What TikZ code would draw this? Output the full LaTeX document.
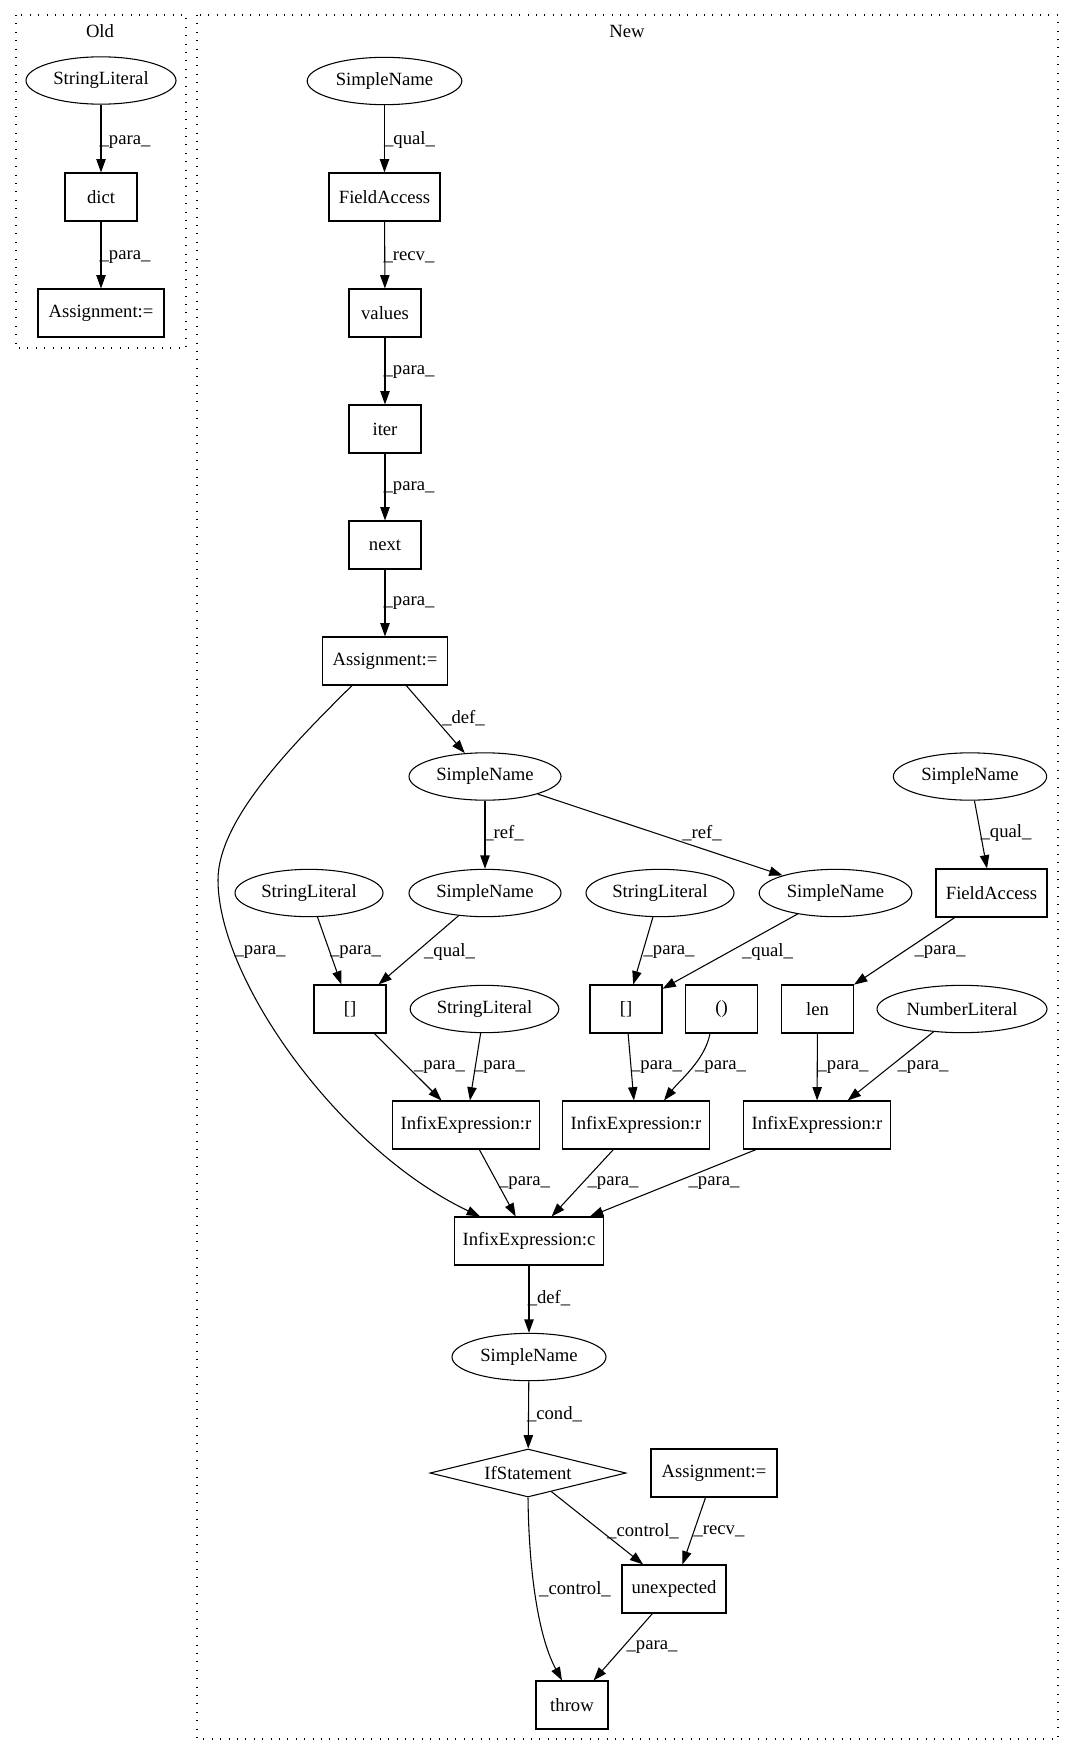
\documentclass[tikz,border=0pt]{standalone}
\usepackage{fontspec}
\setmainfont{Liberation Serif}
\usetikzlibrary{shapes.geometric,arrows.meta,calc}
\begin{document}
\begin{tikzpicture}[x=0.75pt,y=-0.75pt,
  every node/.style={font=\fontsize{14pt}{16pt}\selectfont},
  box/.style={draw,rectangle,minimum height=36pt,inner sep=0pt,line width=0.8pt},
  ell/.style={draw,ellipse,minimum height=35.5pt,inner sep=0pt,line width=0.8pt},
  dia/.style={draw,diamond,aspect=4,minimum height=36pt,minimum width=147pt,inner sep=0pt,line width=0.8pt},
  arr/.style={-{Triangle[length=10pt,width=7pt]},line width=0.8pt},
  lbl/.style={inner sep=0pt},
  clus/.style={draw,line width=0.8pt,dash pattern=on 0.8pt off 5.5pt}
]
\path[use as bounding box] (0,0) rectangle (1076,1756);

% clusters
\draw[clus] (16,15) rectangle (186,348);
\draw[clus] (197,15) rectangle (1058,1739);
\node[lbl] (toldlbl) at (100,31) {Old};
\node[lbl] (tnewlbl) at (627,31) {New};

% Old
\node[ell,minimum width=112.5pt] (osl) at (101,80.5) {StringLiteral};
\node[box,minimum width=54pt] (odict) at (101,197) {dict};
\node[box,minimum width=94.5pt] (oasg) at (101,313) {Assignment:=};
\draw[arr] (osl) -- (odict) node[lbl] at (125,142) {\_para\_};
\draw[arr] (odict) -- (oasg) node[lbl] at (125,257) {\_para\_};

% New
\node[ell,minimum width=116pt] (sn1) at (384.5,81) {SimpleName};
\node[box,minimum width=83.25pt] (fa1) at (384.5,197) {FieldAccess};
\node[box,minimum width=54pt] (vals) at (385,313) {values};
\node[box,minimum width=54pt] (iter) at (385,429) {iter};
\node[box,minimum width=54pt] (next) at (385,545) {next};
\node[box,minimum width=93.75pt] (asg) at (385,661) {Assignment:=};
\node[ell,minimum width=114pt] (sndef) at (485,776.5) {SimpleName};
\node[ell,minimum width=115pt] (snr) at (970,776.5) {SimpleName};

\node[ell,minimum width=111pt] (sl1) at (309,893) {StringLiteral};
\node[ell,minimum width=114pt] (sn2) at (485,893) {SimpleName};
\node[ell,minimum width=111pt] (sl2) at (660,893) {StringLiteral};
\node[ell,minimum width=114.5pt] (sn3) at (835.5,893) {SimpleName};
\node[box,minimum width=83.25pt] (fa2) at (991.5,893) {FieldAccess};

\node[box,minimum width=54pt] (br1) at (350,1009) {[]};
\node[ell,minimum width=111.5pt] (sl3) at (484.5,1009) {StringLiteral};
\node[box,minimum width=54pt] (br2) at (626,1009) {[]};
\node[box,minimum width=54pt] (par) at (721.5,1009) {()};
\node[box,minimum width=54pt] (len) at (817.5,1009) {len};
\node[ell,minimum width=127.5pt] (nl) at (962,1009) {NumberLiteral};

\node[box,minimum width=110.25pt] (ir1) at (466,1125) {InfixExpression:r};
\node[box,minimum width=110.25pt] (ir2) at (636,1125) {InfixExpression:r};
\node[box,minimum width=110.25pt] (ir3) at (817,1125) {InfixExpression:r};
\node[box,minimum width=111.75pt] (ic) at (529,1241) {InfixExpression:c};

\node[ell,minimum width=115.5pt] (sn4) at (529,1357) {SimpleName};
\node[dia] (ifs) at (528,1473) {IfStatement};
\node[box,minimum width=94.5pt] (asg2) at (714,1473) {Assignment:=};
\node[box,minimum width=78pt] (unx) at (674,1589) {unexpected};
\node[box,minimum width=54pt] (thr) at (572,1705) {throw};

\coordinate (cv) at (218,880);

% edges
\draw[arr] (sn1) -- (fa1) node[lbl] at (409.5,140) {\_qual\_};
\draw[arr] (fa1) -- (vals) node[lbl] at (409,257) {\_recv\_};
\draw[arr] (vals) -- (iter) node[lbl] at (409,372) {\_para\_};
\draw[arr] (iter) -- (next) node[lbl] at (409,488) {\_para\_};
\draw[arr] (next) -- (asg) node[lbl] at (409,603) {\_para\_};
\draw[arr] (asg) -- (sndef) node[lbl] at (463.5,718) {\_def\_};
\draw[arr] ($(asg.south)+(-33,0)$) .. controls (292,745) and (218,820) .. (cv)
  .. controls (218,980) and (340,1150) .. ($(ic.north)+(-49,0)$)
  node[lbl] at (260,952) {\_para\_};
\draw[arr] (sndef) -- (sn2) node[lbl] at (504,833) {\_ref\_};
\draw[arr] (sndef) -- (sn3) node[lbl] at (702,833) {\_ref\_};
\draw[arr] (snr) -- (fa2) node[lbl] at (1006,833) {\_qual\_};

\draw[arr] (sl1) -- (br1) node[lbl] at (355.5,952) {\_para\_};
\draw[arr] (sn2) -- (br1) node[lbl] at (449.5,952) {\_qual\_};
\draw[arr] (sl2) -- (br2) node[lbl] at (669,952) {\_para\_};
\draw[arr] (sn3) -- (br2) node[lbl] at (767.5,952) {\_qual\_};
\draw[arr] (fa2) -- (len) node[lbl] at (940,952) {\_para\_};

\draw[arr] (br1) -- (ir1) node[lbl] at (439.5,1067) {\_para\_};
\draw[arr] (sl3) -- (ir1) node[lbl] at (499.5,1067) {\_para\_};
\draw[arr] (br2) -- (ir2) node[lbl] at (656.5,1067) {\_para\_};
\draw[arr] ($(par.south)+(-11.5,0)$) .. controls (705,1060) and (680,1080) .. ($(ir2.north)+(28,0)$)
  node[lbl] at (720.5,1067) {\_para\_};
\draw[arr] (len) -- (ir3) node[lbl] at (843,1067) {\_para\_};
\draw[arr] (nl) -- (ir3) node[lbl] at (923,1067) {\_para\_};

\draw[arr] (ir1) -- (ic) node[lbl] at (524.5,1183) {\_para\_};
\draw[arr] (ir2) -- (ic) node[lbl] at (613,1183) {\_para\_};
\draw[arr] (ir3) -- (ic) node[lbl] at (714,1183) {\_para\_};

\draw[arr] (ic) -- (sn4) node[lbl] at (549,1298) {\_def\_};
\draw[arr] (sn4) -- (ifs) node[lbl] at (554.5,1414) {\_cond\_};
\draw[arr] (ifs) -- (unx) node[lbl] at (643,1531) {\_control\_};
\draw[arr] (asg2) -- (unx) node[lbl] at (719,1531) {\_recv\_};
\draw[arr] (ifs.south) .. controls (529,1580) and (540,1640) .. ($(thr.north)+(-10,0)$)
  node[lbl] at (575,1589) {\_control\_};
\draw[arr] (unx) -- (thr) node[lbl] at (652,1647) {\_para\_};
\end{tikzpicture}
\end{document}
